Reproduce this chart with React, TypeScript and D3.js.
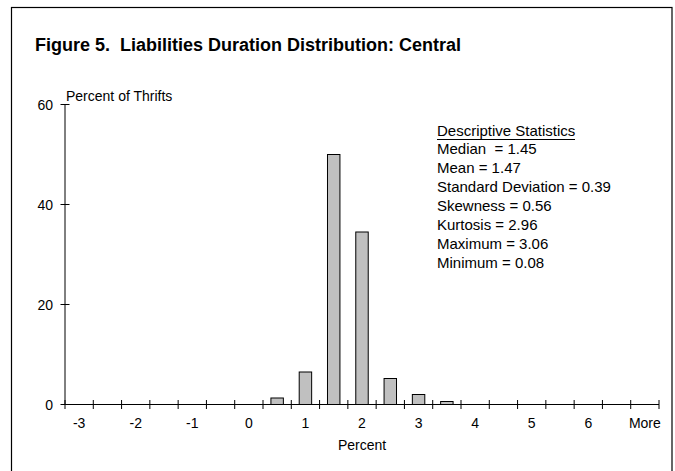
import * as d3 from "d3";

const bins = ["-3", "-2.5", "-2", "-1.5", "-1", "-0.5", "0", "0.5", "1", "1.5", "2", "2.5", "3", "3.5", "4", "4.5", "5", "5.5", "6", "6.5", "More"];
const percentOfThrifts = [0, 0, 0, 0, 0, 0, 0, 1.3, 6.5, 50, 34.5, 5.2, 2, 0.6, 0, 0, 0, 0, 0, 0, 0];
const xLabels = ["-3", "-2", "-1", "0", "1", "2", "3", "4", "5", "6", "More"];
const yTicks = [0, 20, 40, 60];
const statsLines = [
  "Median  = 1.45",
  "Mean = 1.47",
  "Standard Deviation = 0.39",
  "Skewness = 0.56",
  "Kurtosis = 2.96",
  "Maximum = 3.06",
  "Minimum = 0.08",
];

const W = 675;
const H = 471;
const left = 65;
const right = 659;
const top = 104.5;
const bottom = 404.5;
const font = "'Liberation Sans', Arial, sans-serif";

export default function App() {
  const x = d3.scaleBand<string>().domain(bins).range([left, right]).padding(0);
  const y = d3.scaleLinear().domain([0, 60]).range([bottom, top]);
  const bw = x.bandwidth();
  const barW = bw * 0.44;

  return (
    <svg width={W} height={H} style={{ position: "absolute", left: 0, top: 0 }} fontFamily={font}>
      <rect x={0} y={0} width={W} height={H} fill="#fff" />
      <rect x={11.5} y={7.5} width={660.5} height={470} fill="none" stroke="#000" strokeWidth={1.2} />

      <text x={35} y={51} fontSize={18} fontWeight="bold" fill="#000">
        Figure 5.{"\u00a0\u00a0"}Liabilities Duration Distribution: Central
      </text>

      {/* bars */}
      {percentOfThrifts.map((v, i) =>
        v > 0 ? (
          <rect
            key={bins[i]}
            x={(x(bins[i]) as number) + (bw - barW) / 2}
            y={y(v)}
            width={barW}
            height={bottom - y(v)}
            fill="#c0c0c0"
            stroke="#000"
            strokeWidth={1}
          />
        ) : null
      )}

      {/* y axis */}
      <line x1={left} x2={left} y1={top} y2={bottom} stroke="#000" />
      {yTicks.map((t) => (
        <g key={t}>
          <line x1={left - 4.5} x2={left + 4.5} y1={y(t)} y2={y(t)} stroke="#000" />
          <text x={53} y={y(t) + 5} fontSize={14} textAnchor="end" fill="#000">
            {t}
          </text>
        </g>
      ))}
      <text x={66} y={101} fontSize={14} fill="#000">Percent of Thrifts</text>

      {/* x axis */}
      <line x1={left} x2={right} y1={bottom} y2={bottom} stroke="#000" />
      {d3.range(bins.length + 1).map((i) => {
        const xp = left + i * bw;
        return <line key={i} x1={xp} x2={xp} y1={bottom - 4.5} y2={bottom + 4.5} stroke="#000" />;
      })}
      {bins.map((b, i) =>
        xLabels.includes(b) && i % 2 === 0 ? (
          <text key={b} x={(x(b) as number) + bw / 2} y={428} fontSize={14} textAnchor="middle" fill="#000">
            {b}
          </text>
        ) : null
      )}
      <text x={(left + right) / 2} y={450} fontSize={14} textAnchor="middle" fill="#000">
        Percent
      </text>

      {/* stats box */}
      <text x={437} y={136} fontSize={15} fill="#000">Descriptive Statistics</text>
      <line x1={437} x2={575} y1={139.5} y2={139.5} stroke="#000" />
      {statsLines.map((s, i) => (
        <text key={s} x={437} y={154 + i * 19} fontSize={15} fill="#000" style={{ whiteSpace: "pre" }}>
          {s}
        </text>
      ))}
    </svg>
  );
}
